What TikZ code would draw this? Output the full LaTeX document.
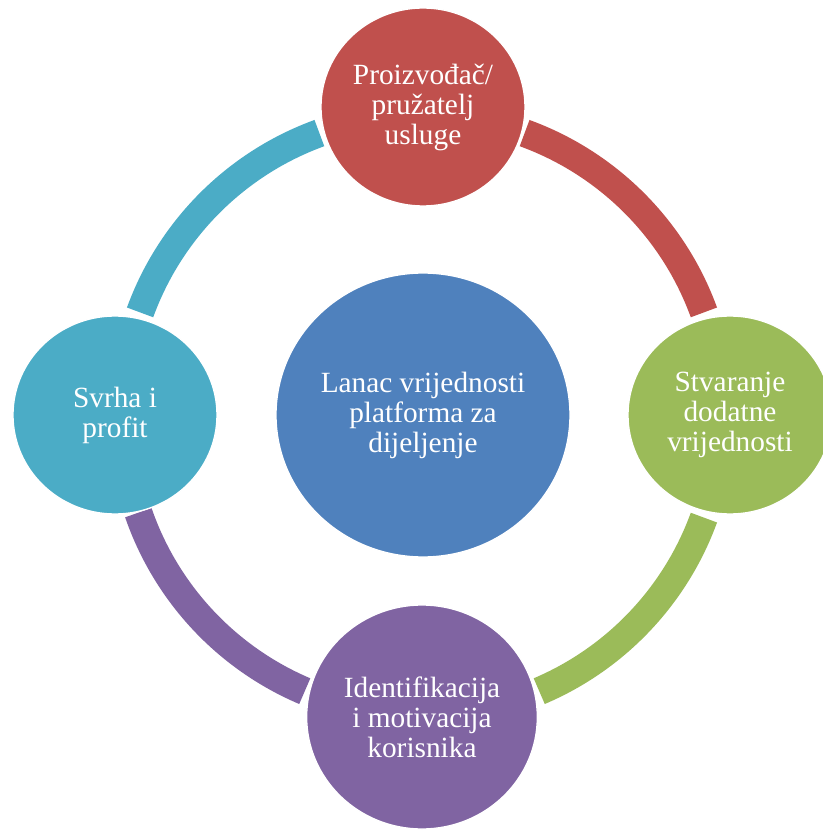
\documentclass[tikz,border=0pt]{standalone}
\usepackage{fontspec}
\setmainfont{Liberation Serif}
\usetikzlibrary{shapes.geometric}

\definecolor{hubblue}{HTML}{4F81BD}
\definecolor{prodred}{HTML}{C0504D}
\definecolor{valgreen}{HTML}{9BBB59}
\definecolor{userpurple}{HTML}{8064A2}
\definecolor{profcyan}{HTML}{4BACC6}

\tikzset{
  bubble/.style={
    ellipse,
    draw=white,
    line width=1pt,
    inner sep=0pt,
    minimum width=153pt,
    minimum height=148.5pt,
    text=white,
    font=\fontsize{22}{22.5}\selectfont,
    text centered,
    align=center
  },
  ringarc/.style={line width=21pt},
}

\begin{document}
\begin{tikzpicture}[x=0.75pt, y=0.75pt]
  \useasboundingbox (-422,-421) rectangle (400,415);
  \coordinate (o) at (0,0);
  % ring segments between the outer bubbles
  \draw[ringarc, prodred] ([shift={(70:300)}]o) arc[start angle=70, end angle=20, radius=300];
  \draw[ringarc, valgreen] ([shift={(-20:300)}]o) arc[start angle=-20, end angle=-67, radius=300];
  \draw[ringarc, userpurple] ([shift={(247:300)}]o) arc[start angle=247, end angle=199, radius=300];
  \draw[ringarc, profcyan] ([shift={(160:300)}]o) arc[start angle=160, end angle=110, radius=300];
  \node[bubble, fill=hubblue, minimum width=220.5pt, minimum height=213pt] (hub) at (1,0) {Lanac vrijednosti\\platforma za\\dijeljenje};
  \node[bubble, fill=prodred] (prod) at (1,308) {Proizvođač/\\pružatelj\\usluge};
  \node[bubble, fill=valgreen] (val) at (308,0) {Stvaranje\\dodatne\\vrijednosti};
  \node[bubble, fill=userpurple, minimum width=173pt, minimum height=168pt] (user) at (0,-302) {Identifikacija\\i motivacija\\korisnika};
  \node[bubble, fill=profcyan] (prof) at (-307,0) {Svrha i\\profit};
\end{tikzpicture}
\end{document}
